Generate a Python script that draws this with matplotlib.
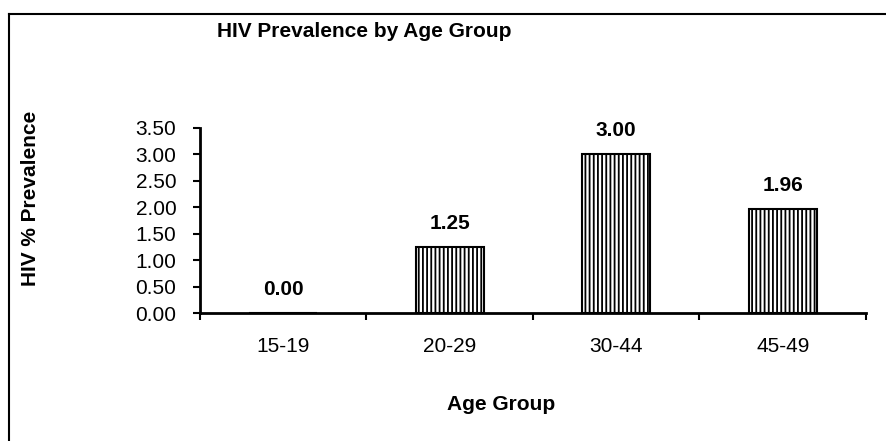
import matplotlib
matplotlib.use("Agg")
import matplotlib.pyplot as plt
from matplotlib.lines import Line2D

categories = ["15-19", "20-29", "30-44", "45-49"]
values = [0.00, 1.25, 3.00, 1.96]
yticks = [0.0, 0.5, 1.0, 1.5, 2.0, 2.5, 3.0, 3.5]

plt.rcParams['font.family'] = ['Liberation Sans', 'DejaVu Sans']
plt.rcParams['hatch.linewidth'] = 1.3

fig = plt.figure(figsize=(8.86, 4.41), dpi=100)
ax = fig.add_axes([0.2257, 0.2902, 0.7517, 0.4196])

x = list(range(len(categories)))
ax.bar(x, values, width=0.41, color='white', edgecolor='black', hatch='||||', linewidth=1.5)
for xi, v in zip(x, values):
    ax.text(xi, v + 0.27, f"{v:.2f}", ha='center', va='bottom', fontsize=15, fontweight='bold')

ax.set_xlim(-0.5, len(categories) - 0.5)
ax.set_ylim(0, 3.5)
ax.set_yticks(yticks)
ax.set_yticklabels([f"{t:.2f}" for t in yticks], fontsize=15)
ax.set_xticks([i - 0.5 for i in range(len(categories) + 1)])
ax.set_xticklabels([])
ax.set_xticks(x, minor=True)
ax.set_xticklabels(categories, minor=True, fontsize=15)
ax.tick_params(axis='x', which='minor', length=0, pad=17)
ax.tick_params(axis='x', which='major', length=5, width=1.5, direction='out')
ax.tick_params(axis='y', length=5, width=1.5, direction='out', pad=12)
for s in ['top', 'right']:
    ax.spines[s].set_visible(False)
for s in ['left', 'bottom']:
    ax.spines[s].set_linewidth(2)

fig.text(0.0339, 0.551, "HIV % Prevalence", rotation=90, ha='center', va='center', fontsize=15, fontweight='bold')
fig.text(0.5655, 0.0839, "Age Group", ha='center', va='center', fontsize=15, fontweight='bold')
fig.text(0.4108, 0.9297, "HIV Prevalence by Age Group", ha='center', va='center', fontsize=15, fontweight='bold')

# clipped chart-area frame: only top and left edges visible
fig.lines.append(Line2D([9/886, 1.0], [1 - 13.5/441, 1 - 13.5/441], transform=fig.transFigure,
                        color='black', linewidth=1.5))
fig.lines.append(Line2D([9/886, 9/886], [0.0, 1 - 13.5/441], transform=fig.transFigure,
                        color='black', linewidth=1.5))

fig.savefig("out.png", dpi=100)
